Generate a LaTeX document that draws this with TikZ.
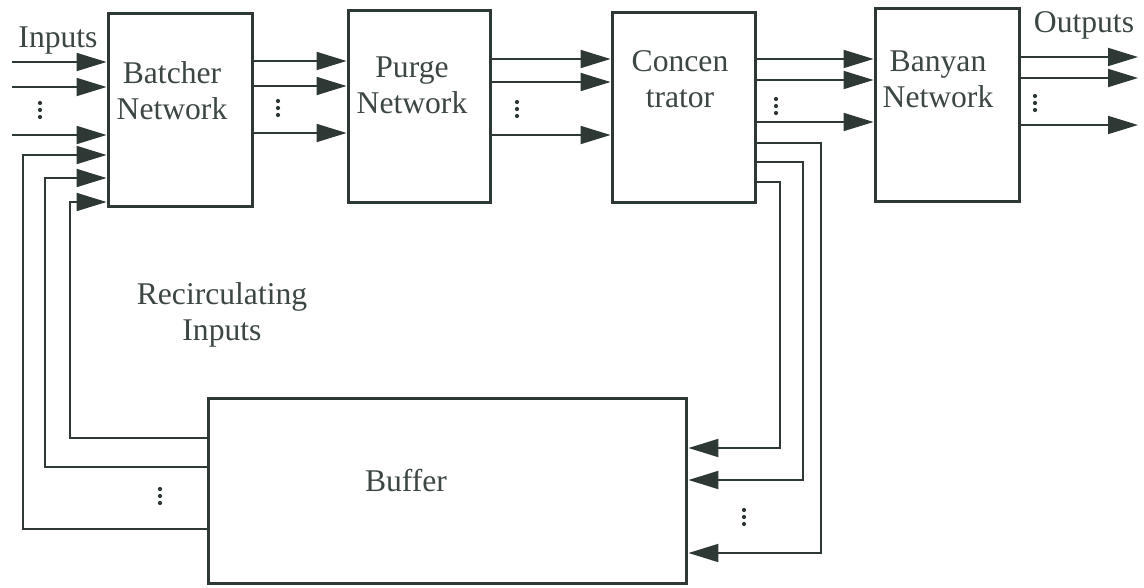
\documentclass[tikz,border=0pt]{standalone}
\usepackage{fontspec}
\setmainfont{Liberation Serif}
\usetikzlibrary{positioning, arrows.meta}
\definecolor{Ink}{HTML}{2E3834}
\definecolor{Type}{HTML}{3C4642}
\tikzset{
    netbox/.style={rectangle, draw=Ink, line width=1.7pt, inner sep=0pt},
    boxlabel/.style={align=center, text=Type, font=\fontsize{18}{20.5}\selectfont},
    arrow/.style={-{Triangle[length=0.6cm, width=0.36cm]}, line width=1.1pt, color=Ink},
}

\begin{document}
\begin{tikzpicture}[x=0.02cm, y=-0.02cm]
    \useasboundingbox (0,0) rectangle (1144,588);

    % --- Blocchi ---
    \node[netbox, minimum width=2.9cm, minimum height=3.88cm] (batcher) at (180.5,110) {};
    \node[netbox, minimum width=2.86cm, minimum height=3.86cm] (purge) at (419.5,106.5) {};
    \node[netbox, minimum width=2.88cm, minimum height=3.82cm] (conc) at (684,107.5) {};
    \node[netbox, minimum width=2.9cm, minimum height=3.88cm] (banyan) at (947.5,105) {};
    \node[netbox, minimum width=9.58cm, minimum height=3.72cm] (buffer) at (447.5,491) {};

    % Testi dei blocchi
    \node[boxlabel] (batchertxt) at (172,91) {Batcher\\Network};
    \node[boxlabel] (purgetxt) at (412,85) {Purge\\Network};
    \node[boxlabel] (conctxt) at (680,79) {Concen\\trator};
    \node[boxlabel] (banyantxt) at (938,79) {Banyan\\Network};
    \node[boxlabel] (buffertxt) at (406,481) {Buffer};

    % Etichette
    \node[boxlabel, anchor=base] (inlabel) at (58,48) {Inputs};
    \node[boxlabel, anchor=base] (outlabel) at (1084,33) {Outputs};
    \node[boxlabel] (recirc) at (222,315) {Recirculating\\Inputs};

    % --- Ingressi ---
    \foreach \y [count=\i] in {62,87,135} {
        \coordinate (in\i) at (12,\y);
        \draw[arrow] (in\i) -- (batcher.west |- in\i);
    }

    % Ingressi di ricircolo (buffer -> batcher)
    \foreach \ys/\xv/\ye in {438/70/202, 467/45/178, 529/23/155}
        \draw[arrow] (buffer.west |- 0,\ys) -| (\xv,\ye) -- (batcher.west |- 0,\ye);

    % --- Collegamenti tra i blocchi ---
    \foreach \y in {61,86,133}
        \draw[arrow] (batcher.east |- 0,\y) -- (purge.west |- 0,\y);
    \foreach \y in {59,82,135}
        \draw[arrow] (purge.east |- 0,\y) -- (conc.west |- 0,\y);
    \foreach \y in {59,80,122}
        \draw[arrow] (conc.east |- 0,\y) -- (banyan.west |- 0,\y);

    % Uscite
    \foreach \y [count=\i] in {57,78,125} {
        \coordinate (out\i) at (1138,\y);
        \draw[arrow] (banyan.east |- out\i) -- (out\i);
    }

    % Concentratore -> buffer
    \foreach \ys/\xv/\ye in {143/821/553, 162/803/480, 182/780/448}
        \draw[arrow] (conc.east |- 0,\ys) -| (\xv,\ye) -- (buffer.east |- 0,\ye);

    % Puntini verticali
    \foreach \px/\py in {40/110, 278/108, 517/109, 776/106, 1035/103, 160/496, 744/517}
        \foreach \k in {-1,0,1}
            \fill[Ink] (\px,\py+\k*7) circle (1.2pt);
\end{tikzpicture}
\end{document}
